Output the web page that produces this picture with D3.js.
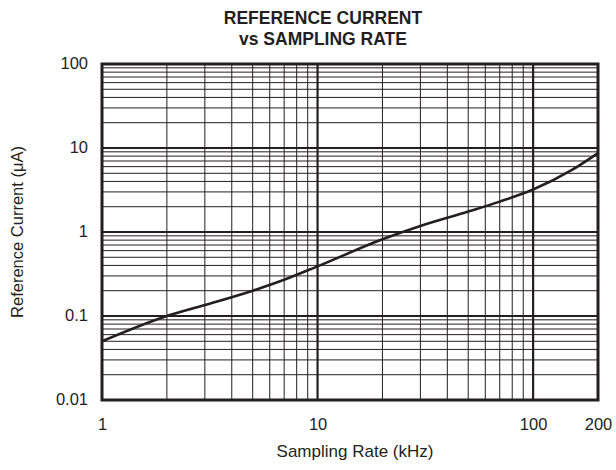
<!DOCTYPE html>
<html><head><meta charset="utf-8">
<script src="https://cdn.jsdelivr.net/npm/d3@7"></script>
<style>
body{margin:0;background:#fff;}
text{font-family:"Liberation Sans",Arial,Helvetica,sans-serif;fill:#231f20;}
</style></head>
<body><svg id="c" width="616" height="470"></svg>
<script>
const titleLines = ["REFERENCE CURRENT", "vs SAMPLING RATE"];
const xLabel = "Sampling Rate (kHz)";
const yLabel = "Reference Current (\u03BCA)";
const rate = [1, 2, 3, 5, 7, 10, 20, 30, 50, 70, 100, 150, 200];
const current = [0.05, 0.1, 0.135, 0.2, 0.27, 0.39, 0.82, 1.18, 1.75, 2.3, 3.2, 5.4, 8.7];
const xTicks = [1, 10, 100, 200];
const xTickLabels = ["1", "10", "100", "200"];
const yTicks = [0.01, 0.1, 1, 10, 100];
const yTickLabels = ["0.01", "0.1", "1", "10", "100"];
const xDomain = [1, 200];
const yDomain = [0.01, 100];

const svg = d3.select("#c");
const m = {l: 102, t: 64, r: 18, b: 70};
const W = 616 - m.l - m.r, H = 470 - m.t - m.b;
const x = d3.scaleLog().domain(xDomain).range([0, W]);
const y = d3.scaleLog().domain(yDomain).range([H, 0]);
const g = svg.append("g").attr("transform", `translate(${m.l},${m.t})`);
const ink = "#231f20";
const font = '"Liberation Sans",Arial,sans-serif';

// grid
const xMinor = x.ticks().filter(v => v > xDomain[0] && v < xDomain[1]);
const yMinor = y.ticks().filter(v => v > yDomain[0] && v < yDomain[1]);
const isDecade = v => Math.abs(Math.log10(v) - Math.round(Math.log10(v))) < 1e-9;

g.append("g").selectAll("line").data(xMinor).join("line")
  .attr("x1", d => x(d)).attr("x2", d => x(d)).attr("y1", 0).attr("y2", H)
  .attr("stroke", ink).attr("stroke-width", d => isDecade(d) ? 2.2 : 1);
g.append("g").selectAll("line").data(yMinor).join("line")
  .attr("y1", d => y(d)).attr("y2", d => y(d)).attr("x1", 0).attr("x2", W)
  .attr("stroke", ink).attr("stroke-width", d => isDecade(d) ? 2.2 : 1);

// frame
g.append("rect").attr("x", 0).attr("y", 0).attr("width", W).attr("height", H)
  .attr("fill", "none").attr("stroke", ink).attr("stroke-width", 3);

// curve
const line = d3.line().x((d, i) => x(rate[i])).y(d => y(d)).curve(d3.curveMonotoneX);
g.append("path").datum(current).attr("d", line)
  .attr("fill", "none").attr("stroke", ink).attr("stroke-width", 2.6);

// axes
const xAxis = d3.axisBottom(x).tickValues(xTicks).tickFormat((d, i) => xTickLabels[i]).tickSize(0).tickPadding(18);
const xa = g.append("g").attr("transform", `translate(0,${H})`).call(xAxis);
xa.select(".domain").remove();
xa.selectAll("text").attr("font-size", 16.5).attr("fill", ink).style("font-family", font);

const yAxis = d3.axisLeft(y).tickValues(yTicks).tickFormat((d, i) => yTickLabels[i]).tickSize(0).tickPadding(14);
const ya = g.append("g").call(yAxis);
ya.select(".domain").remove();
ya.selectAll("text").attr("font-size", 16.5).attr("fill", ink).style("font-family", font).attr("dy", "0.28em");

svg.append("text").attr("x", 355).attr("y", 457).attr("text-anchor", "middle")
  .attr("font-size", 17).text(xLabel);
svg.append("text").attr("transform", "translate(23,232) rotate(-90)").attr("text-anchor", "middle")
  .attr("font-size", 16.5).text(yLabel);

svg.selectAll("text.title").data(titleLines).join("text").attr("class", "title")
  .attr("x", 323).attr("y", (d, i) => 24 + i * 21).attr("text-anchor", "middle")
  .attr("font-size", 17.5).attr("font-weight", "bold").text(d => d);
</script></body></html>
